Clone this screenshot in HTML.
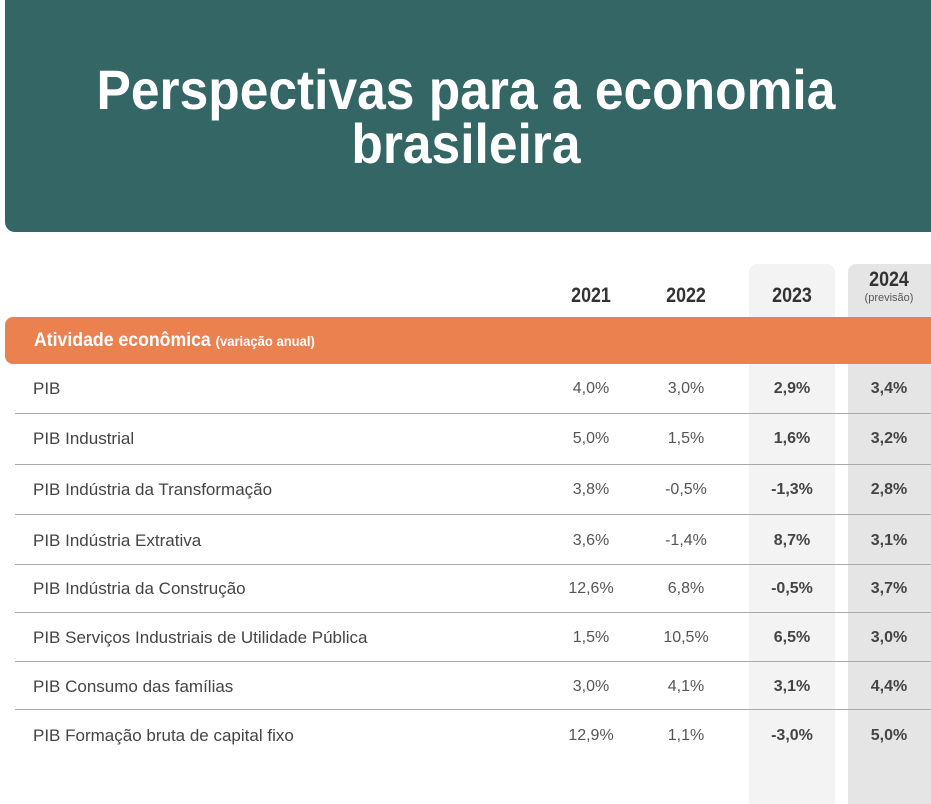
<!DOCTYPE html>
<html><head><meta charset="utf-8"><style>
*{margin:0;padding:0;box-sizing:border-box}
body{width:931px;height:793px;background:#fff;position:relative;overflow:hidden;font-family:"Liberation Sans",sans-serif;color:#444}
.hdr{position:absolute;left:5px;top:0;width:940px;height:232px;background:#336664;border-radius:0 0 0 10px}
.t{position:absolute;left:0;width:931px;text-align:center;color:#fff;font-weight:bold;font-size:56px;white-space:nowrap;transform:scaleX(0.92);transform-origin:471px 0}
.col{position:absolute;top:264px;height:540px;border-radius:8px 8px 0 0}
.orange{position:absolute;left:5px;top:317px;width:940px;height:47px;background:#EC8150;border-radius:8px 0 0 8px}
.otext{position:absolute;left:34px;top:317px;line-height:47px;color:#fff;font-weight:bold;font-size:19px;white-space:nowrap;transform:scaleX(0.93);transform-origin:0 0}
.otext small{font-size:14px}
.yr{position:absolute;font-weight:bold;font-size:21px;color:#333;text-align:center;width:80px;transform:scaleX(0.85)}
.line{position:absolute;left:15px;width:930px;height:1px;background:#a8a8a8}
.lab{position:absolute;left:33px;font-size:17px;color:#444;transform:translateY(-50%);white-space:nowrap}
.v{position:absolute;width:90px;text-align:center;font-size:16px;color:#555;transform:translateY(-50%)}
.b{font-weight:bold;color:#444}
</style></head><body>
<div class="hdr"></div>
<div class="t" style="top:56px;line-height:68px">Perspectivas para a economia</div>
<div class="t" style="top:110px;line-height:68px">brasileira</div>
<div class="col" style="left:749px;width:86px;background:#f3f3f3"></div>
<div class="col" style="left:848px;width:90px;background:#e5e5e5"></div>
<div class="yr" style="left:551px;top:284px">2021</div>
<div class="yr" style="left:646px;top:284px">2022</div>
<div class="yr" style="left:752px;top:284px">2023</div>
<div class="yr" style="left:849px;top:268px">2024</div>
<div style="position:absolute;left:849px;width:80px;top:292px;text-align:center;font-size:11px;color:#555">(previsão)</div>
<div class="orange"></div>
<div class="otext">Atividade econômica <small>(variação anual)</small></div>

<div class="line" style="top:413px"></div>
<div class="line" style="top:464px"></div>
<div class="line" style="top:514px"></div>
<div class="line" style="top:564px"></div>
<div class="line" style="top:612px"></div>
<div class="line" style="top:661px"></div>
<div class="line" style="top:709px"></div>

<div class="lab" style="top:389px">PIB</div>
<div class="v" style="left:546px;top:389px">4,0%</div><div class="v" style="left:641px;top:389px">3,0%</div><div class="v b" style="left:747px;top:389px">2,9%</div><div class="v b" style="left:844px;top:389px">3,4%</div>
<div class="lab" style="top:439px">PIB Industrial</div>
<div class="v" style="left:546px;top:439px">5,0%</div><div class="v" style="left:641px;top:439px">1,5%</div><div class="v b" style="left:747px;top:439px">1,6%</div><div class="v b" style="left:844px;top:439px">3,2%</div>
<div class="lab" style="top:490px">PIB Indústria da Transformação</div>
<div class="v" style="left:546px;top:490px">3,8%</div><div class="v" style="left:641px;top:490px">-0,5%</div><div class="v b" style="left:747px;top:490px">-1,3%</div><div class="v b" style="left:844px;top:490px">2,8%</div>
<div class="lab" style="top:541px">PIB Indústria Extrativa</div>
<div class="v" style="left:546px;top:541px">3,6%</div><div class="v" style="left:641px;top:541px">-1,4%</div><div class="v b" style="left:747px;top:541px">8,7%</div><div class="v b" style="left:844px;top:541px">3,1%</div>
<div class="lab" style="top:589px">PIB Indústria da Construção</div>
<div class="v" style="left:546px;top:589px">12,6%</div><div class="v" style="left:641px;top:589px">6,8%</div><div class="v b" style="left:747px;top:589px">-0,5%</div><div class="v b" style="left:844px;top:589px">3,7%</div>
<div class="lab" style="top:638px">PIB Serviços Industriais de Utilidade Pública</div>
<div class="v" style="left:546px;top:638px">1,5%</div><div class="v" style="left:641px;top:638px">10,5%</div><div class="v b" style="left:747px;top:638px">6,5%</div><div class="v b" style="left:844px;top:638px">3,0%</div>
<div class="lab" style="top:687px">PIB Consumo das famílias</div>
<div class="v" style="left:546px;top:687px">3,0%</div><div class="v" style="left:641px;top:687px">4,1%</div><div class="v b" style="left:747px;top:687px">3,1%</div><div class="v b" style="left:844px;top:687px">4,4%</div>
<div class="lab" style="top:736px">PIB Formação bruta de capital fixo</div>
<div class="v" style="left:546px;top:736px">12,9%</div><div class="v" style="left:641px;top:736px">1,1%</div><div class="v b" style="left:747px;top:736px">-3,0%</div><div class="v b" style="left:844px;top:736px">5,0%</div>
</body></html>
